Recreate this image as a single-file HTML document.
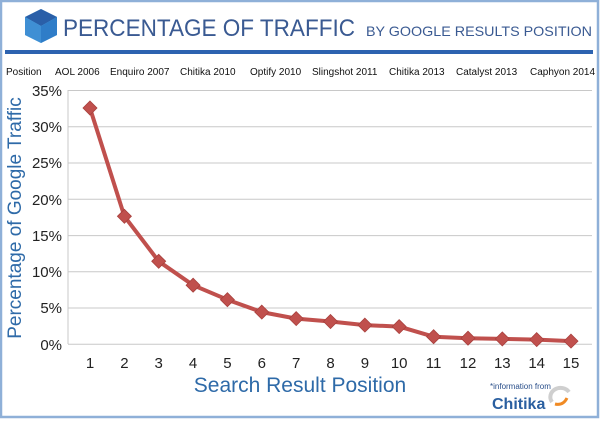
<!DOCTYPE html>
<html><head><meta charset="utf-8"><style>
html,body{margin:0;padding:0;background:#fff;}
</style></head><body>
<svg width="600" height="419" xmlns="http://www.w3.org/2000/svg" font-family="Liberation Sans, sans-serif">
<rect x="1" y="1" width="597" height="416" fill="#fff" stroke="#8fb0d8" stroke-width="2.5"/>
<polygon points="25,17 41,9 57,17 57,35 41,43 25,35" fill="#6ec1ec"/>
<polygon points="25,17 41,9 57,17 41,26" fill="#2a5fa8"/>
<polygon points="25,17 41,26 41,43 25,35" fill="#3f8fd4"/>
<polygon points="41,26 57,17 57,35 41,43" fill="#2f7dc8"/>
<text x="63" y="36" font-size="24" fill="#3a5a92" textLength="292" lengthAdjust="spacingAndGlyphs">PERCENTAGE OF TRAFFIC</text>
<text x="366" y="36" font-size="14" fill="#3a5a92" textLength="226" lengthAdjust="spacingAndGlyphs">BY GOOGLE RESULTS POSITION</text>
<rect x="5" y="50" width="588" height="4" fill="#2d63b0"/>
<g font-size="10" fill="#111">
<text x="6" y="75">Position</text>
<text x="55" y="75">AOL 2006</text>
<text x="110" y="75">Enquiro 2007</text>
<text x="180" y="75">Chitika 2010</text>
<text x="250" y="75">Optify 2010</text>
<text x="312" y="75">Slingshot 2011</text>
<text x="389" y="75">Chitika 2013</text>
<text x="456" y="75">Catalyst 2013</text>
<text x="530" y="75">Caphyon 2014</text>
</g>
<g stroke="#c8c8c8" stroke-width="1">
<line x1="68" y1="90.5" x2="592" y2="90.5"/>
<line x1="68" y1="126.8" x2="592" y2="126.8"/>
<line x1="68" y1="163" x2="592" y2="163"/>
<line x1="68" y1="199.3" x2="592" y2="199.3"/>
<line x1="68" y1="235.6" x2="592" y2="235.6"/>
<line x1="68" y1="271.8" x2="592" y2="271.8"/>
<line x1="68" y1="308" x2="592" y2="308"/>
<line x1="68" y1="344.3" x2="592" y2="344.3"/>
<line x1="68" y1="90" x2="68" y2="344"/>
</g>
<g font-size="15" fill="#222" text-anchor="end">
<text x="62" y="96">35%</text>
<text x="62" y="132">30%</text>
<text x="62" y="168">25%</text>
<text x="62" y="205">20%</text>
<text x="62" y="241">15%</text>
<text x="62" y="277">10%</text>
<text x="62" y="313">5%</text>
<text x="62" y="350">0%</text>
</g>
<g font-size="15" fill="#222" text-anchor="middle">
<text x="90" y="368">1</text><text x="124.4" y="368">2</text><text x="158.7" y="368">3</text><text x="193.1" y="368">4</text><text x="227.4" y="368">5</text><text x="261.8" y="368">6</text><text x="296.2" y="368">7</text><text x="330.5" y="368">8</text><text x="364.9" y="368">9</text><text x="399.2" y="368">10</text><text x="433.6" y="368">11</text><text x="468" y="368">12</text><text x="502.3" y="368">13</text><text x="536.7" y="368">14</text><text x="571" y="368">15</text>
</g>
<text transform="translate(21,218) rotate(-90)" font-size="19" fill="#2e6aa8" text-anchor="middle">Percentage of Google Traffic</text>
<text x="300" y="392" font-size="21" fill="#2e6aa8" text-anchor="middle">Search Result Position</text>
<polyline fill="none" stroke="#c0504d" stroke-width="4" stroke-linejoin="round" points="90,108.1 124.4,216.3 158.7,261.3 193.1,285.2 227.4,299.7 261.8,312.1 296.2,318.6 330.5,321.5 364.9,325.1 399.2,326.6 433.6,336.7 468,338.2 502.3,338.9 536.7,339.6 571,341.1"/>
<g fill="#c0504d" stroke="#a8403d" stroke-width="0.8">
<path d="M90,101l7,7l-7,7l-7,-7z"/><path d="M124.4,209.3l7,7l-7,7l-7,-7z"/><path d="M158.7,254.3l7,7l-7,7l-7,-7z"/><path d="M193.1,278.2l7,7l-7,7l-7,-7z"/><path d="M227.4,292.7l7,7l-7,7l-7,-7z"/><path d="M261.8,305.1l7,7l-7,7l-7,-7z"/><path d="M296.2,311.6l7,7l-7,7l-7,-7z"/><path d="M330.5,314.5l7,7l-7,7l-7,-7z"/><path d="M364.9,318.1l7,7l-7,7l-7,-7z"/><path d="M399.2,319.6l7,7l-7,7l-7,-7z"/><path d="M433.6,329.7l7,7l-7,7l-7,-7z"/><path d="M468,331.2l7,7l-7,7l-7,-7z"/><path d="M502.3,331.9l7,7l-7,7l-7,-7z"/><path d="M536.7,332.6l7,7l-7,7l-7,-7z"/><path d="M571,334.1l7,7l-7,7l-7,-7z"/>
</g>
<text x="490" y="389" font-size="8" fill="#2a4f8a">*information from</text>
<text x="492" y="409" font-size="16" font-weight="bold" fill="#2a5fa0">Chitika</text>
<path d="M552,402 a10,9 0 1,1 17,-10" fill="none" stroke="#cfcfcf" stroke-width="4"/>
<path d="M555,404 q8,2 12,-6" fill="none" stroke="#f08a24" stroke-width="3"/>
</svg>
</body></html>
